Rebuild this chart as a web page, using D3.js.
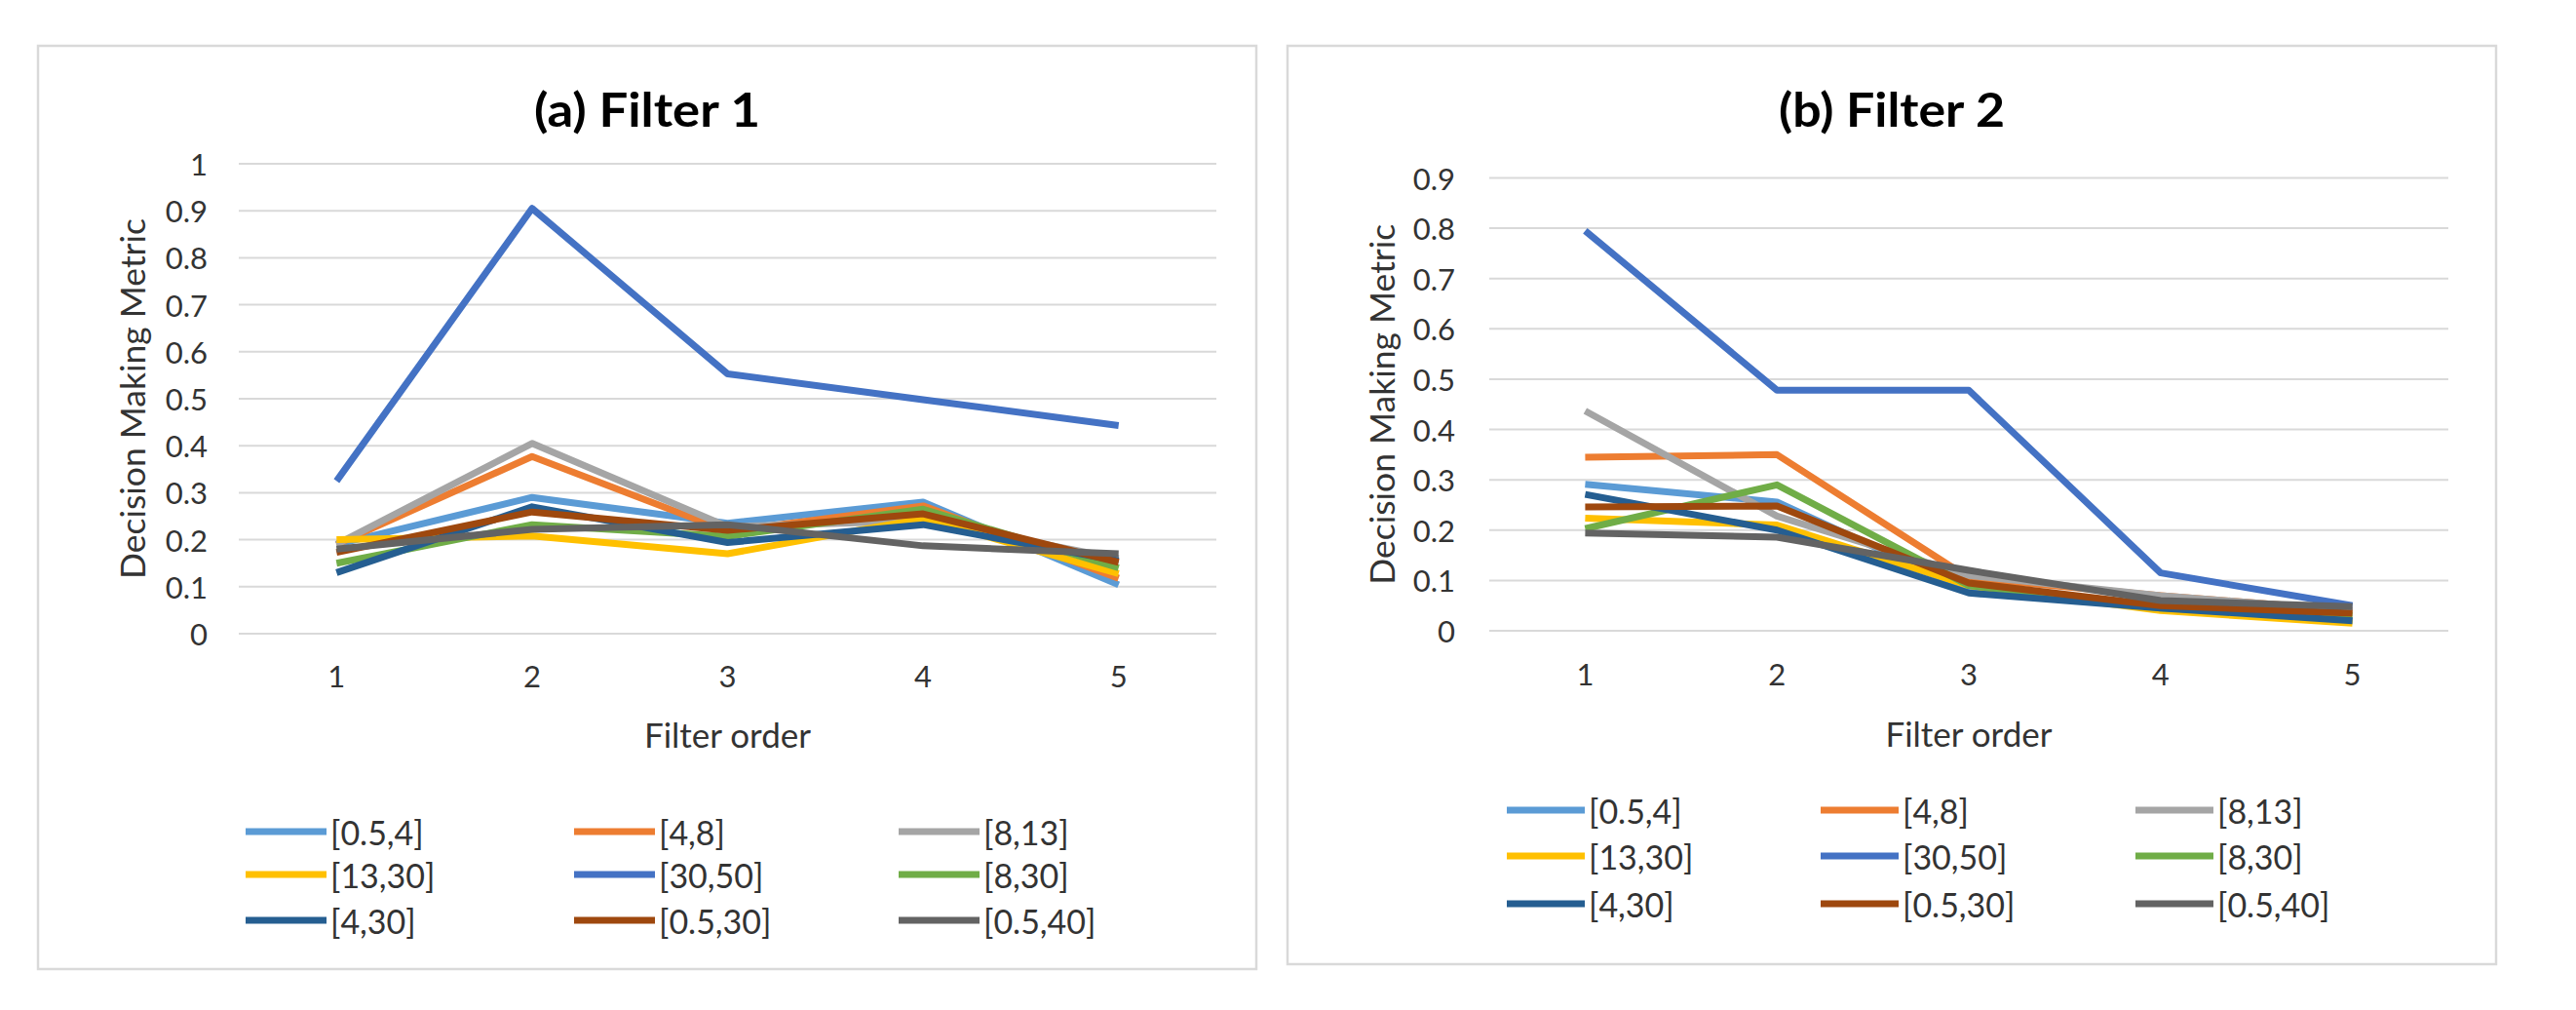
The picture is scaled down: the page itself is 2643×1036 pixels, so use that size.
<!DOCTYPE html>
<html><head><meta charset="utf-8">
<script src="https://cdn.jsdelivr.net/npm/d3@7"></script>
<style>html,body{margin:0;padding:0;background:#fff;}svg{display:block;}</style>
</head><body>
<svg id="c" width="2643" height="1036"></svg>
<script>
const categories = [1, 2, 3, 4, 5];
const seriesNames = ["[0.5,4]", "[4,8]", "[8,13]", "[13,30]", "[30,50]", "[8,30]", "[4,30]", "[0.5,30]", "[0.5,40]"];
const seriesColors = ["#5B9BD5", "#ED7D31", "#A5A5A5", "#FFC000", "#4472C4", "#70AD47", "#255E91", "#9E480E", "#636363"];
// Filter 1 values (rows = series, in seriesNames order)
const f1_05_4  = [0.19, 0.29, 0.235, 0.28, 0.104];
const f1_4_8   = [0.19, 0.377, 0.218, 0.272, 0.118];
const f1_8_13  = [0.19, 0.405, 0.228, 0.24, 0.16];
const f1_13_30 = [0.20, 0.208, 0.17, 0.245, 0.128];
const f1_30_50 = [0.325, 0.905, 0.553, 0.498, 0.443];
const f1_8_30  = [0.15, 0.232, 0.207, 0.265, 0.14];
const f1_4_30  = [0.13, 0.27, 0.194, 0.232, 0.155];
const f1_05_30 = [0.173, 0.259, 0.22, 0.255, 0.152];
const f1_05_40 = [0.18, 0.222, 0.232, 0.187, 0.17];
// Filter 2 values
const f2_05_4  = [0.291, 0.256, 0.08, 0.05, 0.02];
const f2_4_8   = [0.345, 0.35, 0.105, 0.07, 0.04];
const f2_8_13  = [0.437, 0.228, 0.11, 0.07, 0.04];
const f2_13_30 = [0.224, 0.21, 0.09, 0.04, 0.015];
const f2_30_50 = [0.795, 0.478, 0.478, 0.115, 0.05];
const f2_8_30  = [0.203, 0.29, 0.09, 0.045, 0.03];
const f2_4_30  = [0.271, 0.2, 0.075, 0.045, 0.02];
const f2_05_30 = [0.246, 0.248, 0.095, 0.05, 0.035];
const f2_05_40 = [0.194, 0.186, 0.12, 0.06, 0.048];
const yTicks1 = [0, 0.1, 0.2, 0.3, 0.4, 0.5, 0.6, 0.7, 0.8, 0.9, 1];
const yTicks2 = [0, 0.1, 0.2, 0.3, 0.4, 0.5, 0.6, 0.7, 0.8, 0.9];
const titles = ["(a) Filter 1", "(b) Filter 2"];
const xTitle = "Filter order";
const yTitle = "Decision Making Metric";

const data1 = [f1_05_4, f1_4_8, f1_8_13, f1_13_30, f1_30_50, f1_8_30, f1_4_30, f1_05_30, f1_05_40];
const data2 = [f2_05_4, f2_4_8, f2_8_13, f2_13_30, f2_30_50, f2_8_30, f2_4_30, f2_05_30, f2_05_40];

const FONT = "Lato, 'Open Sans', sans-serif";
const TXT = "#333333";
const svg = d3.select("#c");

const panels = [
  {box:[39,47,1250,947], px:[245,1248], py:[650,168], yMax:1, ticks:yTicks1, data:data1, title:titles[0],
   titleY:112, xLabY:693, xTitleY:753, yTitleX:135, tickEnd:213,
   legRows:[853,897,944], legX:[252,589,922], swLen:83},
  {box:[1321,47,1240,942], px:[1528,2512], py:[647,182.5], yMax:0.9, ticks:yTicks2, data:data2, title:titles[1],
   titleY:112, xLabY:691, xTitleY:752, yTitleX:1417, tickEnd:1493,
   legRows:[831,878,927], legX:[1546,1868,2191], swLen:80}
];

panels.forEach(p => {
  const g = svg.append("g");
  g.append("rect").attr("x", p.box[0]).attr("y", p.box[1]).attr("width", p.box[2]).attr("height", p.box[3])
    .attr("fill", "#fff").attr("stroke", "#d9d9d9").attr("stroke-width", 2.5);

  const x = d3.scalePoint().domain(categories).range(p.px).padding(0.5);
  const y = d3.scaleLinear().domain([0, p.yMax]).range(p.py);

  // gridlines
  g.append("g").selectAll("line").data(p.ticks).join("line")
    .attr("x1", p.px[0]).attr("x2", p.px[1])
    .attr("y1", d => y(d)).attr("y2", d => y(d))
    .attr("stroke", "#d9d9d9").attr("stroke-width", 2);

  // y tick labels
  g.append("g").selectAll("text").data(p.ticks).join("text")
    .attr("x", p.tickEnd).attr("y", d => y(d)).attr("text-anchor", "end").attr("dominant-baseline", "central")
    .attr("font-family", FONT).attr("font-size", 31).attr("fill", TXT)
    .text(d => d3.format("~g")(d));

  // x tick labels
  g.append("g").selectAll("text").data(categories).join("text")
    .attr("x", d => x(d)).attr("y", p.xLabY).attr("text-anchor", "middle").attr("dominant-baseline", "central")
    .attr("font-family", FONT).attr("font-size", 31).attr("fill", TXT)
    .text(d => d);

  // lines
  const line = d3.line().x((d, i) => x(categories[i])).y(d => y(d));
  g.append("g").selectAll("path").data(p.data).join("path")
    .attr("d", d => line(d)).attr("fill", "none")
    .attr("stroke", (d, i) => seriesColors[i]).attr("stroke-width", 7)
    .attr("stroke-linejoin", "round").attr("stroke-linecap", "butt");

  // title
  g.append("text").attr("x", p.box[0] + p.box[2] / 2).attr("y", p.titleY)
    .attr("text-anchor", "middle").attr("dominant-baseline", "central")
    .attr("font-family", FONT).attr("font-weight", "bold").attr("font-size", 47).attr("fill", "#000")
    .attr("textLength", 232).attr("lengthAdjust", "spacingAndGlyphs")
    .text(p.title);

  // axis titles
  g.append("text").attr("x", (p.px[0] + p.px[1]) / 2).attr("y", p.xTitleY)
    .attr("text-anchor", "middle").attr("dominant-baseline", "central")
    .attr("font-family", FONT).attr("font-size", 35).attr("fill", TXT).text(xTitle);
  const yc = (p.py[0] + p.py[1]) / 2;
  g.append("text").attr("transform", `translate(${p.yTitleX},${yc}) rotate(-90)`)
    .attr("text-anchor", "middle").attr("dominant-baseline", "central")
    .attr("font-family", FONT).attr("font-size", 35.5).attr("fill", TXT).text(yTitle);

  // legend
  const leg = g.append("g");
  seriesNames.forEach((name, i) => {
    const r = Math.floor(i / 3), c = i % 3;
    const lx = p.legX[c], ly = p.legRows[r];
    leg.append("line").attr("x1", lx).attr("x2", lx + p.swLen).attr("y1", ly).attr("y2", ly)
      .attr("stroke", seriesColors[i]).attr("stroke-width", 7);
    leg.append("text").attr("x", lx + p.swLen + 4).attr("y", ly).attr("dominant-baseline", "central")
      .attr("font-family", FONT).attr("font-size", 34).attr("fill", TXT).text(name);
  });
});
</script>
</body></html>
